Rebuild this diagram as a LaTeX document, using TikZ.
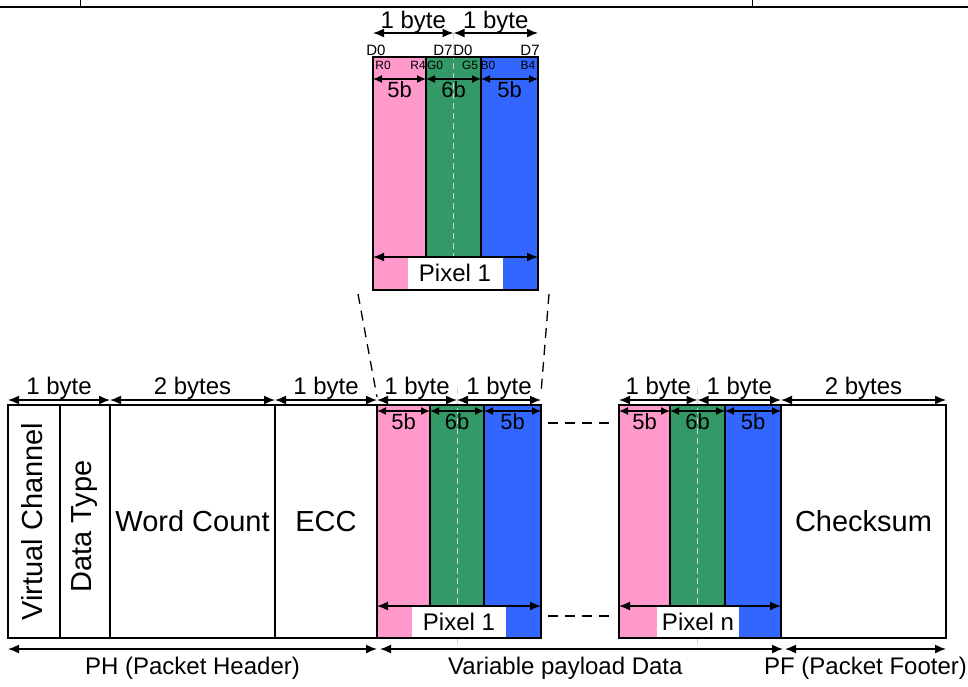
\documentclass[tikz,border=0pt]{standalone}
\usepackage{fontspec}
\setmainfont{Liberation Sans}
\usetikzlibrary{arrows.meta, positioning}
\definecolor{PixPink}{HTML}{FF99CC}
\definecolor{PixGreen}{HTML}{339966}
\definecolor{PixBlue}{HTML}{3366FF}

\begin{document}
\begin{tikzpicture}[x=1pt, y=-1pt,
  field/.style={draw, line width=2pt, minimum height=233pt, inner sep=0pt, outer sep=0pt,
                anchor=north west, font=\fontsize{29}{32}\selectfont},
  comp/.style={field, fill=#1},
  edge/.style={line width=2pt},
  big/.style={font=\fontsize{29}{32}\selectfont, inner sep=0pt},
  lab/.style={font=\fontsize{24}{26}\selectfont, inner sep=0pt},
  bitlab/.style={font=\fontsize{22}{24}\selectfont, inner sep=0pt},
  dlab/.style={font=\fontsize{15}{16}\selectfont, inner sep=0pt},
  clab/.style={font=\fontsize{12}{13}\selectfont, inner sep=0pt},
  pixlab/.style={fill=white, inner sep=0pt, minimum height=32pt, anchor=north,
                 font=\fontsize{24}{26}\selectfont},
  dim/.style={{Latex[length=11pt,width=9pt]}-{Latex[length=11pt,width=9pt]}, line width=1.5pt},
  bitdim/.style={{Latex[length=9pt,width=8pt]}-{Latex[length=9pt,width=8pt]}, line width=1.4pt},
  guide/.style={draw=gray!35, line width=1pt, dash pattern=on 6pt off 4pt},
  gap/.style={line width=1.3pt, dash pattern=on 10pt off 7pt}
]
  \useasboundingbox (0,0) rectangle (968,686);

  % page rule
  \draw[line width=2.6pt] (0,7) -- (968,7);
  \draw[line width=0.8pt] (80,0) -- (80,7) (752,0) -- (752,7);

  % packet header
  \node[field, minimum width=52pt] (vc) at (8,405) {};
  \node[field, minimum width=50pt, right=0pt of vc] (dt) {};
  \node[field, minimum width=165pt, right=0pt of dt] (wc) {Word Count};
  \node[field, minimum width=102pt, right=0pt of wc] (ecc) {ECC};
  \node[big, rotate=90] (vctxt) at ([xshift=-2pt]vc.center) {Virtual Channel};
  \node[big, rotate=90] (dttxt) at ([yshift=-5pt]dt.center) {Data Type};

  % payload: pixel 1 and pixel n
  \node[comp=PixPink, minimum width=53pt, right=0pt of ecc] (p1r) {};
  \node[comp=PixGreen, minimum width=54pt, right=0pt of p1r] (p1g) {};
  \node[comp=PixBlue, minimum width=57pt, right=0pt of p1g] (p1b) {};
  \node[comp=PixPink, minimum width=51pt] (pnr) at (619,405) {};
  \node[comp=PixGreen, minimum width=55pt, right=0pt of pnr] (png) {};
  \node[comp=PixBlue, minimum width=56pt, right=0pt of png] (pnb) {};
  \node[field, minimum width=165pt, right=0pt of pnb] (chk) {Checksum};

  % zoomed pixel
  \node[comp=PixPink, minimum width=53pt] (topr) at (373,57) {};
  \node[comp=PixGreen, minimum width=55pt, right=0pt of topr] (topg) {};
  \node[comp=PixBlue, minimum width=57pt, right=0pt of topg] (topb) {};

  \draw[guide] ([yshift=24pt]topg.north) -- (topg.south);
  \draw[guide] ([yshift=17pt]p1g.north) -- ([yshift=-12pt]p1g.south);
  \draw[guide] ([yshift=17pt]png.north) -- ([yshift=-12pt]png.south);

  \node[pixlab, minimum width=95pt] (toplab) at (455,257) {Pixel 1};
  \node[pixlab, minimum width=94pt] (p1lab) at (459,606) {Pixel 1};
  \node[pixlab, minimum width=82pt] (pnlab) at (698,606) {Pixel n};

  \draw[edge] (topr.north west) rectangle (topb.south east);
  \draw[edge] (p1r.north west) rectangle (p1b.south east);
  \draw[edge] (pnr.north west) rectangle (pnb.south east);

  \draw[dim] (topr.west |- toplab.north) -- (topb.east |- toplab.north);
  \draw[dim] (p1r.west |- p1lab.north) -- (p1b.east |- p1lab.north);
  \draw[dim] (pnr.west |- pnlab.north) -- (pnb.east |- pnlab.north);

  % bit labels of the zoomed pixel
  \node[dlab] (d0a) at (376,50) {D0};
  \node[dlab] (d7a) at (443,50) {D7};
  \node[dlab] (d0b) at (463,50) {D0};
  \node[dlab] (d7b) at (530,50) {D7};
  \node[clab] (r0) at (383,65) {R0};
  \node[clab] (r4) at (418,65) {R4};
  \node[clab] (g0) at (435,65) {G0};
  \node[clab] (g5) at (470,65) {G5};
  \node[clab] (b0) at (488,65) {B0};
  \node[clab] (b4) at (528,65) {B4};

  % byte widths
  \draw[dim] ([yshift=24pt]topr.north west) -- ([yshift=24pt]topg.north) node[midway, lab, yshift=11pt] {1 byte};
  \draw[dim] ([yshift=24pt]topg.north) -- ([yshift=24pt]topb.north east) node[midway, lab, yshift=11pt] {1 byte};
  \draw[dim] ([yshift=5pt]vc.north west) -- ([yshift=5pt]dt.north east) node[midway, lab, yshift=12pt] {1 byte};
  \draw[dim] ([yshift=5pt]wc.north west) -- ([yshift=5pt]wc.north east) node[midway, lab, yshift=12pt] {2 bytes};
  \draw[dim] ([yshift=5pt]ecc.north west) -- ([yshift=5pt]ecc.north east) node[midway, lab, yshift=12pt] {1 byte};
  \draw[dim] ([yshift=5pt]p1r.north west) -- ([yshift=5pt]p1g.north) node[midway, lab, yshift=12pt] {1 byte};
  \draw[dim] ([yshift=5pt]p1g.north) -- ([yshift=5pt]p1b.north east) node[midway, lab, yshift=12pt] {1 byte};
  \draw[dim] ([yshift=5pt]pnr.north west) -- ([yshift=5pt]png.north) node[midway, lab, yshift=12pt] {1 byte};
  \draw[dim] ([yshift=5pt]png.north) -- ([yshift=5pt]pnb.north east) node[midway, lab, yshift=12pt] {1 byte};
  \draw[dim] ([yshift=5pt]chk.north west) -- ([yshift=5pt]chk.north east) node[midway, lab, yshift=12pt] {2 bytes};

  % bit widths
  \draw[bitdim] ([yshift=-22pt]topr.north west) -- ([yshift=-22pt]topr.north east) node[midway, bitlab, yshift=-11pt] {5b};
  \draw[bitdim] ([yshift=-22pt]topg.north west) -- ([yshift=-22pt]topg.north east) node[midway, bitlab, yshift=-11pt] {6b};
  \draw[bitdim] ([yshift=-22pt]topb.north west) -- ([yshift=-22pt]topb.north east) node[midway, bitlab, yshift=-11pt] {5b};
  \draw[bitdim] ([yshift=-6pt]p1r.north west) -- ([yshift=-6pt]p1r.north east) node[midway, bitlab, yshift=-11pt] {5b};
  \draw[bitdim] ([yshift=-6pt]p1g.north west) -- ([yshift=-6pt]p1g.north east) node[midway, bitlab, yshift=-11pt] {6b};
  \draw[bitdim] ([yshift=-6pt]p1b.north west) -- ([yshift=-6pt]p1b.north east) node[midway, bitlab, yshift=-11pt] {5b};
  \draw[bitdim] ([yshift=-6pt]pnr.north west) -- ([yshift=-6pt]pnr.north east) node[midway, bitlab, yshift=-11pt] {5b};
  \draw[bitdim] ([yshift=-6pt]png.north west) -- ([yshift=-6pt]png.north east) node[midway, bitlab, yshift=-11pt] {6b};
  \draw[bitdim] ([yshift=-6pt]pnb.north west) -- ([yshift=-6pt]pnb.north east) node[midway, bitlab, yshift=-11pt] {5b};

  % dashed links
  \draw[gap] ([shift={(7pt,-18pt)}]p1b.north east) -- ([shift={(-7pt,-18pt)}]pnr.north west);
  \draw[gap] ([shift={(7pt,22pt)}]p1b.south east) -- ([shift={(-7pt,22pt)}]pnr.south west);
  \draw[gap] ([shift={(-15pt,-4pt)}]topr.south west) -- ([yshift=8pt]p1r.north west);
  \draw[gap] ([shift={(11pt,-4pt)}]topb.south east) -- ([yshift=12pt]p1b.north east);

  % packet parts
  \draw[dim] ([yshift=-11pt]vc.south west) -- ([yshift=-11pt]ecc.south east) node[midway, lab, yshift=-19pt] {PH (Packet Header)};
  \draw[dim] ([shift={(3pt,-11pt)}]p1r.south west) -- ([shift={(2pt,-11pt)}]pnb.south east) node[pos=0.46, lab, yshift=-19pt] {Variable payload Data};
  \draw[dim] ([shift={(4pt,-11pt)}]chk.south west) -- ([yshift=-11pt]chk.south east) node[midway, lab, yshift=-19pt] {PF (Packet Footer)};
\end{tikzpicture}
\end{document}
